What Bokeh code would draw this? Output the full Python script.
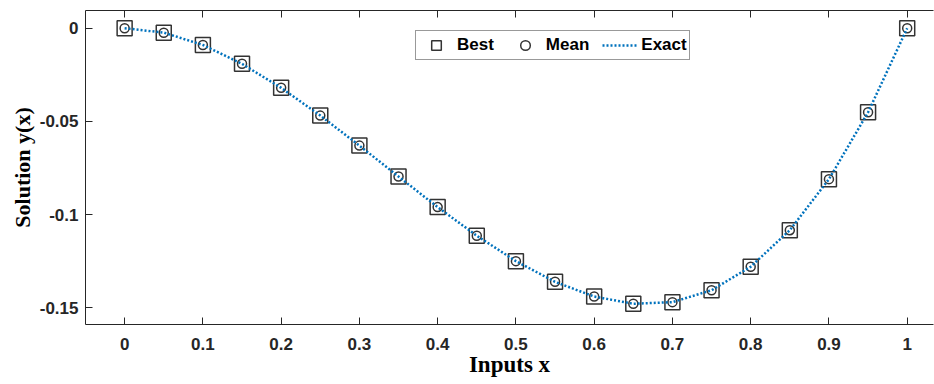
from bokeh.plotting import figure
from bokeh.models import (Range1d, FixedTicker, LinearAxis, Legend, LegendItem)
from bokeh.embed import file_html
from bokeh.resources import INLINE

# ---- data ----
x_pts = [0.0, 0.05, 0.1, 0.15, 0.2, 0.25, 0.3, 0.35, 0.4, 0.45, 0.5,
         0.55, 0.6, 0.65, 0.7, 0.75, 0.8, 0.85, 0.9, 0.95, 1.0]
best = [0.0, -0.0024, -0.009, -0.0191, -0.032, -0.0469, -0.063, -0.0796, -0.096, -0.1114,
        -0.125, -0.1361, -0.144, -0.1479, -0.147, -0.1406, -0.128, -0.1084, -0.081, -0.0451, 0.0]
mean = [0.0, -0.0024, -0.009, -0.0191, -0.032, -0.0469, -0.063, -0.0796, -0.096, -0.1114,
        -0.125, -0.1361, -0.144, -0.1479, -0.147, -0.1406, -0.128, -0.1084, -0.081, -0.0451, 0.0]
exact = [0.0, -0.002375, -0.009, -0.019125, -0.032, -0.046875, -0.063, -0.079625, -0.096, -0.111375,
         -0.125, -0.136125, -0.144, -0.147875, -0.147, -0.140625, -0.128, -0.108375, -0.081, -0.045125, 0.0]

x_ticks = [0, 0.1, 0.2, 0.3, 0.4, 0.5, 0.6, 0.7, 0.8, 0.9, 1.0]
x_tick_labels = ["0", "0.1", "0.2", "0.3", "0.4", "0.5", "0.6", "0.7", "0.8", "0.9", "1"]
y_ticks = [0, -0.05, -0.1, -0.15]
y_tick_labels = ["0", "-0.05", "-0.1", "-0.15"]
x_label = "Inputs x"
y_label = "Solution y(x)"

AX = "#262626"
BLUE = "#0072BD"

p = figure(width=934, height=384, output_backend="svg", toolbar_location=None,
           x_range=Range1d(-0.05, 1.0336), y_range=Range1d(-0.159, 0.0095),
           min_border_left=85, min_border_right=1, min_border_top=10, min_border_bottom=60,
           background_fill_color="white", border_fill_color="white")
p.outline_line_color = None
p.xgrid.visible = False
p.ygrid.visible = False

def style_axis(ax, ticks, labels, show_labels=True):
    ax.ticker = FixedTicker(ticks=ticks)
    ax.major_tick_in = 7
    ax.major_tick_out = 0
    ax.minor_tick_in = 0
    ax.minor_tick_out = 0
    ax.axis_line_color = AX
    ax.major_tick_line_color = AX
    ax.major_label_text_color = AX
    ax.major_label_text_font = "Liberation Sans"
    ax.major_label_text_font_style = "bold"
    ax.axis_label_text_font = "Liberation Serif"
    ax.axis_label_text_font_style = "bold"
    ax.axis_label_text_color = "black"
    if show_labels:
        ax.major_label_overrides = {t: l for t, l in zip(ticks, labels)}
        ax.major_label_text_font_size = "17px"
    else:
        ax.major_label_overrides = {t: "" for t in ticks}
        ax.major_label_text_font_size = "1px"

style_axis(p.xaxis[0], x_ticks, x_tick_labels)
p.xaxis[0].major_label_standoff = 13
p.xaxis[0].axis_label = x_label
p.xaxis[0].axis_label_text_font_size = "23px"
p.xaxis[0].axis_label_standoff = -1
style_axis(p.yaxis[0], y_ticks, y_tick_labels)
p.yaxis[0].major_label_standoff = 7
p.yaxis[0].axis_label = y_label
p.yaxis[0].axis_label_text_font_size = "22px"
p.yaxis[0].axis_label_standoff = 2

top = LinearAxis()
style_axis(top, x_ticks, x_tick_labels, show_labels=False)
top.major_label_standoff = 0
p.add_layout(top, "above")

r_best = p.scatter(x_pts, best, marker="square", size=15, fill_color=None,
                   line_color="#333333", line_width=1.5)
r_mean = p.scatter(x_pts, mean, marker="circle", size=9, fill_color=None,
                   line_color="#333333", line_width=1.5)
r_exact = p.line(x_pts, exact, line_color=BLUE, line_width=2.5, line_dash="2 2")

legend = Legend(items=[LegendItem(label="Best", renderers=[r_best]),
                       LegendItem(label="Mean", renderers=[r_mean]),
                       LegendItem(label="Exact", renderers=[r_exact])],
                orientation="horizontal", location=(330, 264),
                glyph_width=36, glyph_height=24, label_standoff=3, spacing=13,
                padding=2, margin=0, label_height=18,
                label_text_font="Liberation Sans", label_text_font_style="bold",
                label_text_font_size="17px", label_text_color="black",
                border_line_color="#333333", border_line_width=1,
                background_fill_color="white", background_fill_alpha=1.0)
p.add_layout(legend, "center")

open("out.html", "w").write(file_html(p, INLINE))
